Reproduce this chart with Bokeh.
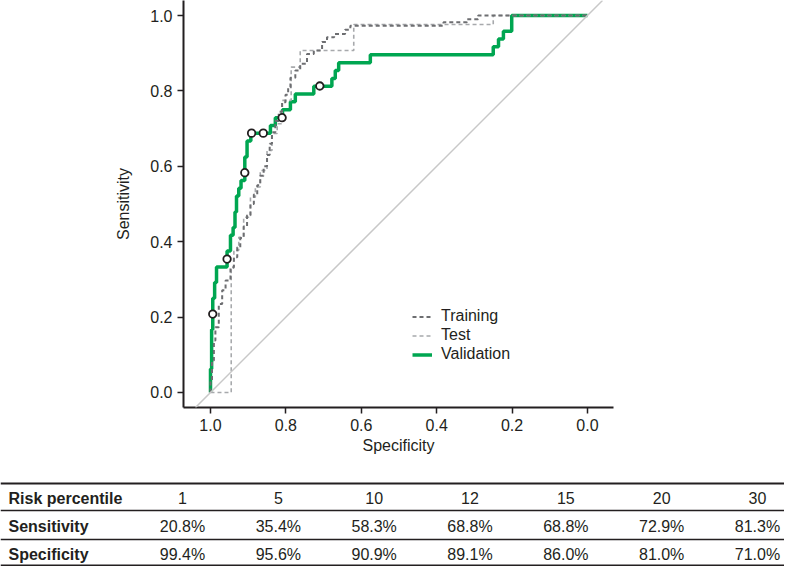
from bokeh.plotting import figure
from bokeh.models import (Range1d, FixedTicker, NumeralTickFormatter, Legend,
                          LegendItem, Slope, Span)
from bokeh.layouts import column
from bokeh.core.properties import value
from bokeh.embed import file_html
from bokeh.resources import INLINE

# ---------------- data ----------------
# ROC operating points (specificity, sensitivity); each step rises at the
# previous specificity and then runs to the next one.
val_spec = [1.0, 0.997, 0.994, 0.989, 0.984, 0.956, 0.947, 0.940, 0.935, 0.931,
            0.925, 0.919, 0.909, 0.903, 0.893, 0.841, 0.828, 0.809, 0.788, 0.775,
            0.726, 0.678, 0.669, 0.660, 0.576, 0.250, 0.236, 0.223, 0.201, 0.0]
val_sens = [0.0, 0.0625, 0.167, 0.25, 0.292, 0.333, 0.375, 0.417, 0.4375, 0.479,
            0.521, 0.542, 0.5625, 0.625, 0.667, 0.6875, 0.708, 0.729, 0.75, 0.771,
            0.792, 0.8125, 0.833, 0.854, 0.875, 0.896, 0.917, 0.9375, 0.958, 1.0]

tr_spec = [1.0, 0.996, 0.991, 0.987, 0.978, 0.969, 0.96, 0.947, 0.938, 0.929,
           0.921, 0.912, 0.903, 0.894, 0.885, 0.876, 0.868, 0.859, 0.85, 0.843,
           0.837, 0.828, 0.819, 0.81, 0.801, 0.794, 0.788, 0.775, 0.762, 0.744,
           0.726, 0.704, 0.691, 0.672, 0.643, 0.629, 0.603, 0.382, 0.32, 0.29, 0.0]
tr_sens = [0.0, 0.03, 0.085, 0.138, 0.173, 0.235, 0.271, 0.297, 0.332, 0.359,
           0.385, 0.41, 0.44, 0.47, 0.5, 0.525, 0.55, 0.575, 0.6, 0.63,
           0.66, 0.69, 0.72, 0.745, 0.77, 0.79, 0.81, 0.835, 0.854, 0.872,
           0.898, 0.907, 0.93, 0.942, 0.951, 0.962, 0.973, 0.973, 0.982, 0.99, 1.0]

te_spec = [1.0, 0.945, 0.938, 0.925, 0.912, 0.894, 0.881, 0.868, 0.85, 0.837,
           0.823, 0.81, 0.786, 0.762, 0.62, 0.25, 0.0]
te_sens = [0.0, 0.0, 0.33, 0.377, 0.412, 0.465, 0.518, 0.545, 0.589, 0.642,
           0.687, 0.713, 0.775, 0.863, 0.907, 0.976, 1.0]

risk_percentile = ["1", "5", "10", "12", "15", "20", "30"]
sensitivity_pct = [20.8, 35.4, 58.3, 68.8, 68.8, 72.9, 81.3]
specificity_pct = [99.4, 95.6, 90.9, 89.1, 86.0, 81.0, 71.0]
row_names = ["Risk percentile", "Sensitivity", "Specificity"]

axis_ticks = [0.0, 0.2, 0.4, 0.6, 0.8, 1.0]

# ---------------- styles / layout ----------------
FONT = "Liberation Sans"
INK = "#231f20"
GREEN = "#00a651"
DARK = "#6d6e71"
LIGHT = "#a7a9ac"

W = 784
H1 = 460                              # ROC figure height
H2 = 106                              # table figure height
FL, FB, FR = 183, 407, 613            # ROC frame left, bottom, right (px)


def steps(xs, ys):
    px, py = [xs[0]], [ys[0]]
    for k in range(1, len(xs)):
        px += [xs[k - 1], xs[k]]
        py += [ys[k], ys[k]]
    return px, py


p = figure(width=W, height=H1, output_backend="svg", toolbar_location=None,
           x_range=Range1d(1.0716, -0.069), y_range=Range1d(-0.0398, 1.0398),
           min_border_left=FL, min_border_right=W - FR, min_border_top=0,
           min_border_bottom=H1 - FB)
p.outline_line_color = None
p.grid.visible = False

for ax in (p.xaxis, p.yaxis):
    ax.ticker = FixedTicker(ticks=axis_ticks)
    ax.formatter = NumeralTickFormatter(format="0.0")
    ax.axis_line_width = 2
    ax.axis_line_color = INK
    ax.major_tick_line_width = 1.5
    ax.major_tick_line_color = INK
    ax.major_tick_out = 6
    ax.major_tick_in = 0
    ax.minor_tick_line_color = None
    ax.major_label_text_font = FONT
    ax.major_label_text_font_size = "16px"
    ax.major_label_text_color = INK
    ax.axis_label_text_font = FONT
    ax.axis_label_text_font_size = "16px"
    ax.axis_label_text_font_style = "normal"
    ax.axis_label_text_color = INK

p.xaxis.axis_label = "Specificity"
p.yaxis.axis_label = "Sensitivity"
p.xaxis.major_label_standoff = 5
p.yaxis.major_label_standoff = 5
p.xaxis.axis_label_standoff = 3
p.yaxis.axis_label_standoff = 15

p.add_layout(Slope(gradient=-1, y_intercept=1, line_color="#c8c8c8", line_width=1.5))

vx, vy = steps(val_spec, val_sens)
r_val = p.line(vx, vy, line_color=GREEN, line_width=3.5)
ex, ey = steps(te_spec, te_sens)
r_te = p.line(ex, ey, line_color=LIGHT, line_width=1.6, line_dash="4 3")
tx, ty = steps(tr_spec, tr_sens)
r_tr = p.line(tx, ty, line_color=DARK, line_width=2, line_dash="4 3")

p.scatter([s / 100 for s in specificity_pct], [s / 100 for s in sensitivity_pct],
          size=7.5, fill_color="white", line_color=INK, line_width=1.8)

legend = Legend(items=[LegendItem(label="Training", renderers=[r_tr]),
                       LegendItem(label="Test", renderers=[r_te]),
                       LegendItem(label="Validation", renderers=[r_val])],
                location=(229, 43.5), border_line_color=None,
                background_fill_alpha=0, padding=0, margin=0, spacing=0,
                glyph_width=20, glyph_height=19, label_height=19,
                label_standoff=9, label_text_font=FONT,
                label_text_font_size="16px", label_text_color=INK)
p.add_layout(legend)

# ---------------- table figure ----------------
t = figure(width=W, height=H2, output_backend="svg", toolbar_location=None,
           x_range=Range1d(0, W), y_range=Range1d(H1 + H2, H1),
           x_axis_location=None, y_axis_location=None,
           min_border=0, min_border_left=0, min_border_right=0,
           min_border_top=0, min_border_bottom=0)
t.outline_line_color = None
t.grid.visible = False

rules = [(483, 2.2), (510, 1.4), (539, 1.4), (565, 2.2)]
for Y, lw in rules:
    t.add_layout(Span(location=Y, dimension="width", line_color=INK, line_width=lw))

row_y = [497.5, 526, 554]
first_x, last_x = 182, 757
n = len(risk_percentile)
col_x = [first_x + i * (last_x - first_x) / (n - 1) for i in range(n)]

t.text(x=[8] * 3, y=row_y, text=row_names, text_font=value(FONT),
       text_font_size=value("16px"), text_font_style="bold", text_color=INK,
       text_align="left", text_baseline="middle")

cells_x, cells_y, cells_t = [], [], []
for i in range(n):
    cells_x += [col_x[i]] * 3
    cells_y += row_y
    cells_t += [risk_percentile[i], f"{sensitivity_pct[i]:.1f}%",
                f"{specificity_pct[i]:.1f}%"]
t.text(x=cells_x, y=cells_y, text=cells_t, text_font=value(FONT),
       text_font_size=value("16px"), text_color=INK, text_align="center",
       text_baseline="middle")

layout = column(column(p), column(t), spacing=0)
open("out.html", "w").write(file_html(layout, INLINE))
